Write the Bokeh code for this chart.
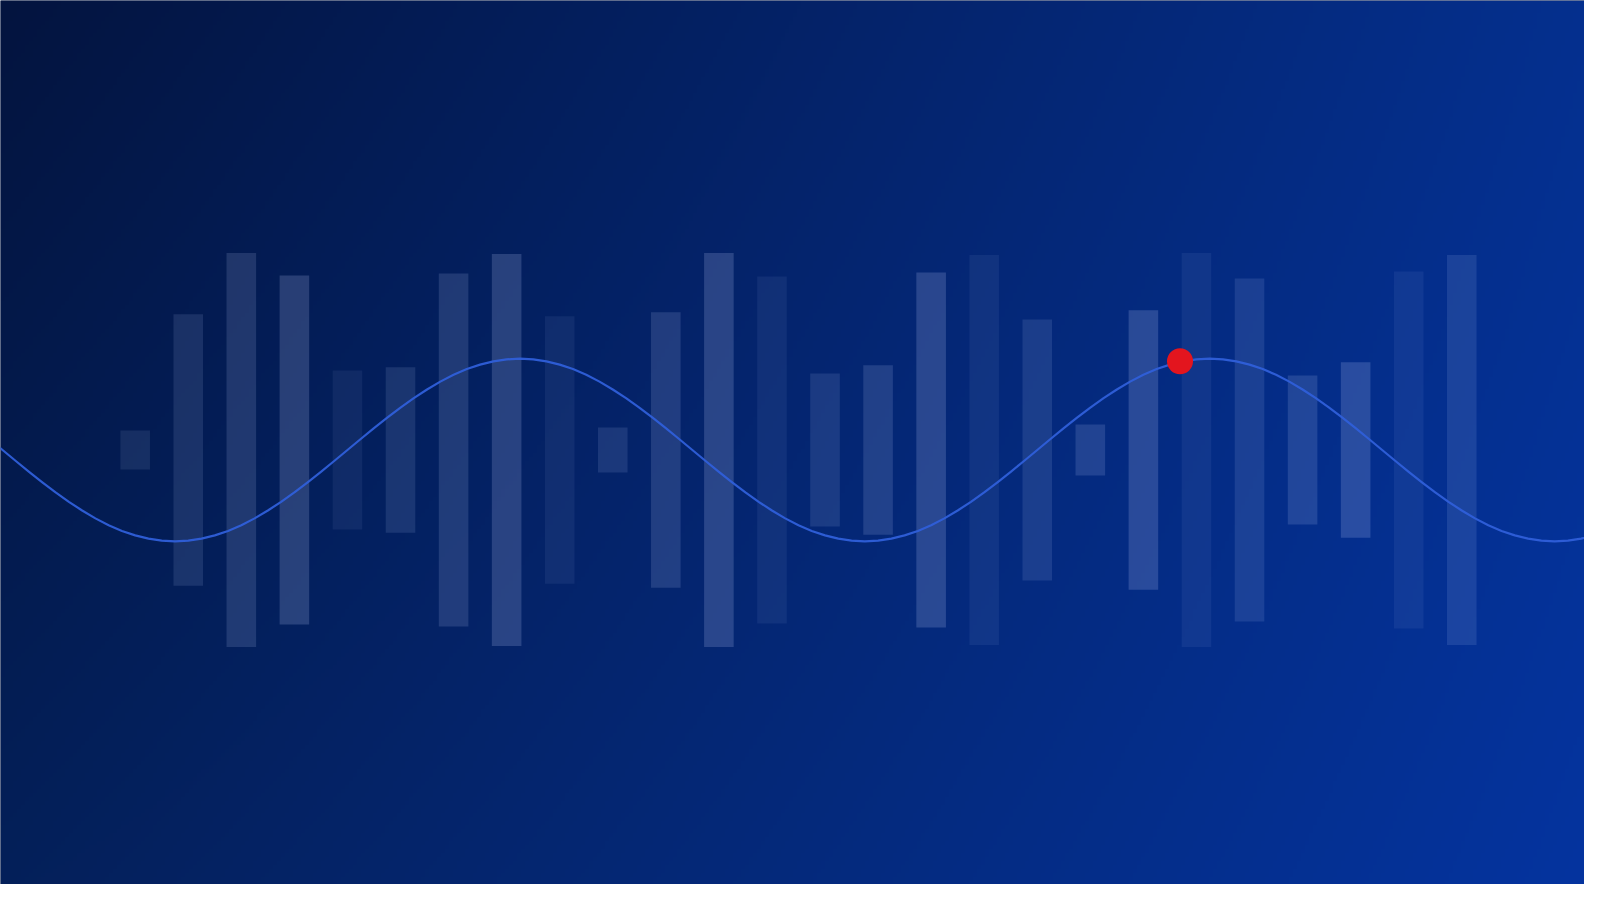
import numpy as np
from bokeh.plotting import figure
from bokeh.models import Range1d, ColumnDataSource
from bokeh.embed import file_html
from bokeh.resources import INLINE

# ---- data ----
bar_pos = list(range(1, 27))
bar_half = [19, 133, 193, 171, 78, 81, 173, 192, 131, 22, 135, 193, 170,
            75, 83, 174, 191, 128, 25, 137, 193, 168, 73, 86, 175, 191]
bar_alpha = [0.10, 0.12, 0.15, 0.19, 0.07, 0.12, 0.15, 0.19, 0.07, 0.12, 0.15, 0.19, 0.07,
             0.12, 0.15, 0.19, 0.07, 0.12, 0.15, 0.19, 0.07, 0.12, 0.15, 0.19, 0.07, 0.12]

wave_x = [-2.0 + 0.25 * k for k in range(123)]
wave_y = [21.4, 10.8, 0,
          -10.8, -21.4, -31.7, -41.6, -50.8, -59.3, -67.0, -73.7, -79.3, -83.7, -86.9, -88.8, -89.5,
          -88.8, -86.9, -83.7, -79.3, -73.7, -67.0, -59.3, -50.8, -41.6, -31.7, -21.4, -10.8, 0,
          10.8, 21.4, 31.7, 41.6, 50.8, 59.3, 67.0, 73.7, 79.3, 83.7, 86.9, 88.8, 89.5,
          88.8, 86.9, 83.7, 79.3, 73.7, 67.0, 59.3, 50.8, 41.6, 31.7, 21.4, 10.8, 0,
          -10.8, -21.4, -31.7, -41.6, -50.8, -59.3, -67.0, -73.7, -79.3, -83.7, -86.9, -88.8, -89.5,
          -88.8, -86.9, -83.7, -79.3, -73.7, -67.0, -59.3, -50.8, -41.6, -31.7, -21.4, -10.8, 0,
          10.8, 21.4, 31.7, 41.6, 50.8, 59.3, 67.0, 73.7, 79.3, 83.7, 86.9, 88.8, 89.5,
          88.8, 86.9, 83.7, 79.3, 73.7, 67.0, 59.3, 50.8, 41.6, 31.7, 21.4, 10.8, 0,
          -10.8, -21.4, -31.7, -41.6, -50.8, -59.3, -67.0, -73.7, -79.3, -83.7, -86.9, -88.8, -89.5,
          -88.8, -86.9, -83.7]

dot_x = [20.69]
dot_y = [87.0]

W, H = 1584, 884
X0, X1 = -1.5385, 28.313
Y0, Y1 = -425.8, 440.5

p = figure(width=W, height=H, output_backend="svg", toolbar_location=None,
           x_range=Range1d(X0, X1), y_range=Range1d(Y0, Y1), min_border=0)
p.axis.visible = False
p.grid.visible = False
p.outline_line_color = None
p.background_fill_color = "#03143f"
p.border_fill_color = "#03143f"

# background gradient (bilinear between corner colours)
nx, ny = 396, 221
TL = np.array([3, 20, 63]); TR = np.array([5, 48, 143])
BL = np.array([4, 32, 90]); BR = np.array([5, 52, 160])
xs = np.linspace(0, 0.99, nx)[None, :, None]
ys = np.linspace(0, 0.982, ny)[:, None, None]  # 0 = top
col = TL * (1 - xs) * (1 - ys) + TR * xs * (1 - ys) + BL * (1 - xs) * ys + BR * xs * ys
col = col[::-1]  # bokeh row 0 is bottom
img = np.empty((ny, nx), dtype=np.uint32)
view = img.view(dtype=np.uint8).reshape((ny, nx, 4))
view[:, :, 0] = col[:, :, 0].astype(np.uint8)
view[:, :, 1] = col[:, :, 1].astype(np.uint8)
view[:, :, 2] = col[:, :, 2].astype(np.uint8)
view[:, :, 3] = 255
p.image_rgba(image=[img], x=X0, y=Y0, dw=X1 - X0, dh=Y1 - Y0)

src = ColumnDataSource(dict(x=bar_pos, top=bar_half,
                            bottom=[-h for h in bar_half], a=bar_alpha))
p.vbar(x="x", top="top", bottom="bottom", width=29 / 52, source=src,
       fill_color="#c8d7ff", fill_alpha="a", line_color=None)

p.line(wave_x, wave_y, line_color="#2f5fd9", line_width=2.2, line_alpha=0.95,
       line_join="round")

p.scatter(dot_x, dot_y, size=26, fill_color="#e3151e", line_color=None)

open("out.html", "w").write(file_html(p, INLINE))
